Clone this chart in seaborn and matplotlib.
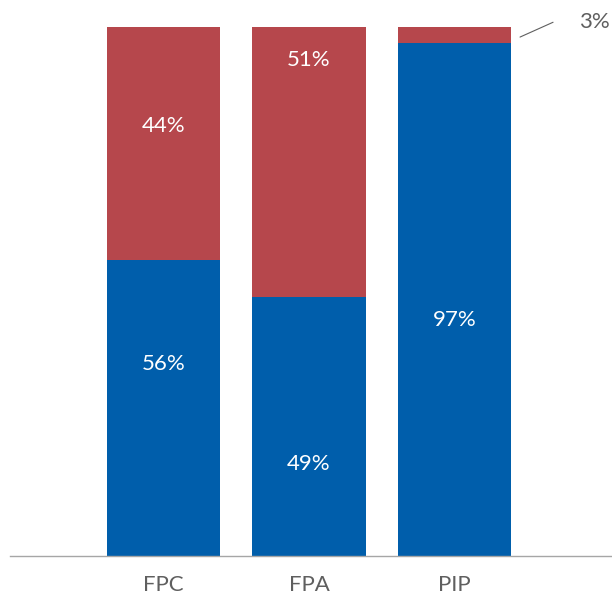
import pandas as pd
import matplotlib.pyplot as plt
import seaborn as sns

# Share of each group (percent)
categories = ["FPC", "FPA", "PIP"]
blue_share = [56, 49, 97]
red_share = [44, 51, 3]

BLUE = "#005EAB"
RED = "#B6474C"
GREY = "#5F5F5F"

sns.set_style("white")
plt.rcParams["font.family"] = ["Lato", "DejaVu Sans"]

df = pd.DataFrame({"category": categories, "blue": blue_share, "red": red_share})
df["total"] = df["blue"] + df["red"]

fig = plt.figure(figsize=(6.12, 6.03), dpi=100)
ax = fig.add_axes([0.0163, 0.0779, 0.9837, 0.8773])

# Stacked bars: draw full height in red, then the blue part over it
sns.barplot(data=df, x="category", y="total", order=categories, color=RED,
            width=0.777, saturation=1, linewidth=0, ax=ax)
sns.barplot(data=df, x="category", y="blue", order=categories, color=BLUE,
            width=0.777, saturation=1, linewidth=0, ax=ax)

ax.set_xlim(-1.055, 3.082)
ax.set_ylim(0, 100)

# Label heights as placed in the original
blue_label_y = [36.3, 17.4, 44.6]
red_label_y = [81.3, 93.8]
for i, v in enumerate(blue_share):
    ax.text(i, blue_label_y[i], f"{v}%", color="white", fontsize=16,
            ha="center", va="center")
for i, y in enumerate(red_label_y):
    ax.text(i, y, f"{red_share[i]}%", color="white", fontsize=16,
            ha="center", va="center")

# Small segment: label outside with a leader line
ax.plot([2.45, 2.677], [98.1, 100.9], color=GREY, lw=0.8, clip_on=False)
ax.text(2.96, 100.9, f"{red_share[2]}%", color=GREY, fontsize=16,
        ha="center", va="center", clip_on=False)

sns.despine(ax=ax, left=True, right=True, top=True)
ax.spines["bottom"].set_color("#A6A6A6")
ax.spines["bottom"].set_linewidth(1)
ax.set_yticks([])
ax.set_xlabel("")
ax.set_ylabel("")
ax.tick_params(axis="x", length=0, pad=14, labelsize=16, labelcolor=GREY)

fig.savefig("out.png", dpi=100)
